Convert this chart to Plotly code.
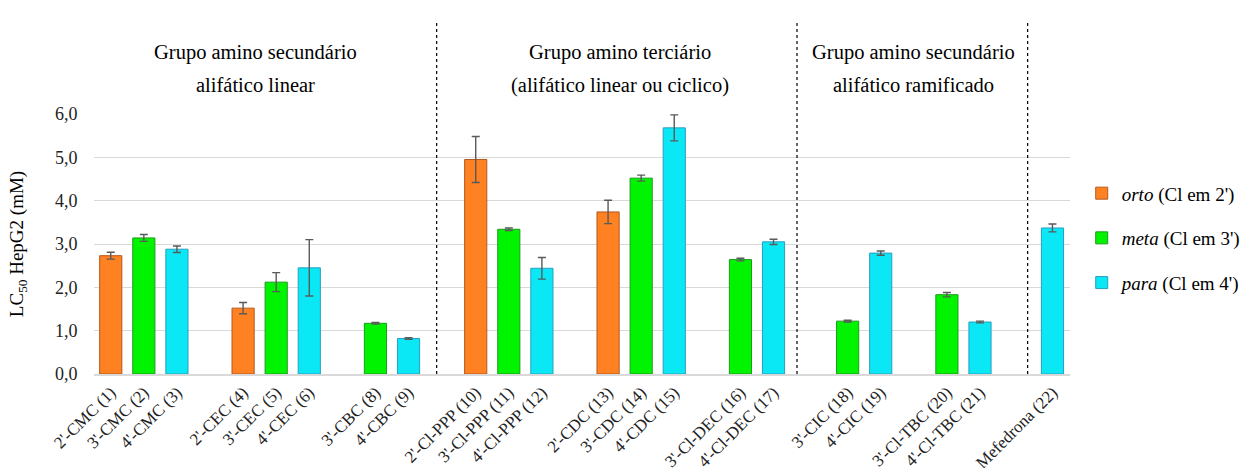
import plotly.graph_objects as go

# ---------------- data ----------------
compounds = ["2'-CMC (1)", "3'-CMC (2)", "4'-CMC (3)",
             "2'-CEC (4)", "3'-CEC (5)", "4'-CEC (6)",
             "3'-CBC (8)", "4'-CBC (9)",
             "2'-Cl-PPP (10)", "3'-Cl-PPP (11)", "4'-Cl-PPP (12)",
             "2'-CDC (13)", "3'-CDC (14)", "4'-CDC (15)",
             "3'-Cl-DEC (16)", "4'-Cl-DEC (17)",
             "3'-CIC (18)", "4'-CIC (19)",
             "3'-Cl-TBC (20)", "4'-Cl-TBC (21)",
             "Mefedrona (22)"]
family = ["CMC", "CMC", "CMC", "CEC", "CEC", "CEC", "CBC", "CBC",
          "PPP", "PPP", "PPP", "CDC", "CDC", "CDC", "DEC", "DEC",
          "CIC", "CIC", "TBC", "TBC", "MEF"]
group = [0, 0, 0, 0, 0, 0, 0, 0,
         1, 1, 1, 1, 1, 1, 1, 1,
         2, 2, 2, 2, 3]
substitution = ["orto", "meta", "para", "orto", "meta", "para", "meta", "para",
                "orto", "meta", "para", "orto", "meta", "para", "meta", "para",
                "meta", "para", "meta", "para", "para"]
lc50 = [2.73, 3.14, 2.88, 1.52, 2.12, 2.45, 1.17, 0.82,
        4.95, 3.34, 2.44, 3.74, 4.52, 5.68, 2.64, 3.05,
        1.22, 2.79, 1.83, 1.20, 3.37]
lc50_err = [0.08, 0.08, 0.075, 0.13, 0.22, 0.65, 0.02, 0.02,
            0.53, 0.03, 0.25, 0.27, 0.07, 0.30, 0.03, 0.06,
            0.02, 0.05, 0.05, 0.02, 0.09]
series = ["orto", "meta", "para"]
series_labels = ["<i>orto</i> (Cl em 2')", "<i>meta</i> (Cl em 3')", "<i>para</i> (Cl em 4')"]
group_titles = [("Grupo amino secundário", "alifático linear"),
                ("Grupo amino terciário", "(alifático linear ou ciclico)"),
                ("Grupo amino secundário", "alifático ramificado")]

# ---------------- layout helpers ----------------
FILL = {"orto": "#FF8122", "meta": "#00F400", "para": "#0AE8F6"}
EDGE = {"orto": "#B4581C", "meta": "#1E9A1E", "para": "#2A9DBE"}
GROUP_SHIFT = [0.0, 0.03, 0.27, 0.46]
SEP_X = [9.85, 20.74, 27.71]
FONT = "Liberation Serif, Times New Roman, serif"

xs = []
slot = -1
prev = None
for f, g in zip(family, group):
    if prev is not None and f != prev:
        slot += 1
    slot += 1
    prev = f
    xs.append(slot + GROUP_SHIFT[g])

fig = go.Figure()
for s, lab in zip(series, series_labels):
    idx = [i for i, v in enumerate(substitution) if v == s]
    fig.add_trace(go.Bar(
        x=[xs[i] for i in idx],
        y=[lc50[i] for i in idx],
        error_y=dict(type="data", array=[lc50_err[i] for i in idx],
                     color="#5A5A5A", thickness=1.4, width=4),
        name=lab, legendgroup=s,
        width=0.67,
        marker=dict(color=FILL[s], line=dict(color=EDGE[s], width=1)),
    ))

shapes = []
for sx in SEP_X:
    shapes.append(dict(type="line", xref="x", yref="paper", x0=sx, x1=sx,
                       y0=0, y1=1.36, line=dict(color="black", width=1.2, dash="3px,3px")))

annotations = []
for g, (l1, l2) in enumerate(group_titles):
    gx = [xs[i] for i in range(len(xs)) if group[i] == g]
    cx = sum(gx) / len(gx)
    annotations.append(dict(x=cx, y=1.238, xref="x", yref="paper", text=l1,
                            xanchor="center", yanchor="middle", showarrow=False,
                            font=dict(family=FONT, size=20.5, color="black")))
    annotations.append(dict(x=cx, y=1.1115, xref="x", yref="paper", text=l2,
                            xanchor="center", yanchor="middle", showarrow=False,
                            font=dict(family=FONT, size=20.5, color="black")))

fig.update_layout(
    width=1258, height=468,
    margin=dict(l=94, r=173, t=114, b=94),
    plot_bgcolor="white", paper_bgcolor="white",
    separators=",.",
    barmode="overlay",
    font=dict(family=FONT, size=18, color="#222"),
    shapes=shapes,
    annotations=annotations,
    showlegend=True,
    legend=dict(x=1.012, y=0.768, xanchor="left", yanchor="top",
                font=dict(family=FONT, size=19, color="black"),
                tracegroupgap=17, bgcolor="rgba(0,0,0,0)"),
)
fig.update_xaxes(
    range=[-0.506, 28.99], automargin=False,
    tickmode="array", tickvals=xs, ticktext=compounds, tickangle=-45,
    showgrid=False, zeroline=False,
    showline=True, linecolor="#D9D9D9", linewidth=1.5,
    ticks="", tickfont=dict(family=FONT, size=17, color="#222"),
)
fig.update_yaxes(
    range=[0, 6], dtick=1, tickformat=".1f", automargin=False,
    showgrid=True, gridcolor="#D9D9D9", gridwidth=1,
    zeroline=False, showline=False,
    ticks="outside", ticklen=12, tickcolor="rgba(0,0,0,0)",
    tickfont=dict(family=FONT, size=18, color="#222"),
    title=dict(text="LC<sub>50</sub> HepG2 (mM)", font=dict(family=FONT, size=19, color="black"),
               standoff=26),
)

fig.write_html("out.html", config={"displayModeBar": False},
               post_script="document.body.style.margin='0';document.body.style.overflow='hidden';")
